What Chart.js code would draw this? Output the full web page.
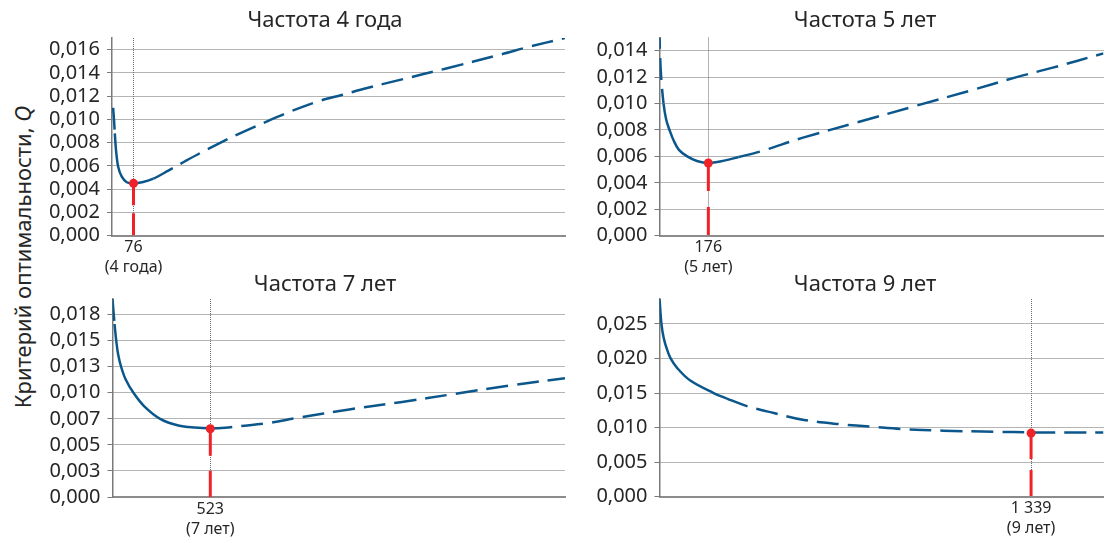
<!DOCTYPE html>
<html lang="ru">
<head>
<meta charset="UTF-8">
<title>Критерий оптимальности Q</title>
<script src="https://cdn.jsdelivr.net/npm/chart.js"></script>
<style>
  body { margin: 0; width: 1108px; height: 543px; background: #fff; position: relative; overflow: hidden; font-family: 'Noto Sans', sans-serif; color: #262626; }
  canvas { position: absolute; }
  #ytitle { position: absolute; left: 22px; top: 257px; transform: translate(-50%, -50%) rotate(-90deg); white-space: nowrap; font-size: 22px; }
</style>
</head>
<body>
<div id="ytitle">Критерий оптимальности, <i>Q</i></div>
<canvas id="c1"></canvas>
<canvas id="c2"></canvas>
<canvas id="c3"></canvas>
<canvas id="c4"></canvas>
<script>
// titles and optimum points
const titles = ['Частота 4 года', 'Частота 5 лет', 'Частота 7 лет', 'Частота 9 лет'];
const optimumN = [76, 176, 523, 1339];
const optimumQ = [0.0045, 0.0055, 0.00655, 0.0092];
const optimumLabels = ['76', '176', '523', '1 339'];
const periodLabels = ['(4 года)', '(5 лет)', '(7 лет)', '(9 лет)'];

// curves
const n4 = [4, 7, 10, 14, 22, 34, 52, 76, 110, 146, 199, 258, 311, 375, 452, 554, 632, 734, 811, 901, 1017, 1184, 1376, 1466, 1600];
const q4 = [0.0110, 0.0100, 0.0088, 0.0074, 0.0059, 0.0051, 0.0046, 0.0045, 0.00462, 0.0049, 0.0056, 0.0064, 0.0071, 0.0079, 0.0088, 0.0099, 0.0107, 0.0116, 0.0121, 0.0127, 0.0134, 0.0144, 0.0156, 0.0162, 0.0170];

const n5 = [0, 1.5, 6, 14.6, 24, 36, 51, 70, 100, 135, 176, 233, 285, 367, 514, 717, 919, 1123, 1287, 1414, 1600];
const q5 = [0.0158, 0.0140, 0.0120, 0.0100, 0.0088, 0.0080, 0.0072, 0.0065, 0.0060, 0.00565, 0.0055, 0.00568, 0.00595, 0.0064, 0.0074, 0.0086, 0.0098, 0.0110, 0.0120, 0.0127, 0.0138];

const n7 = [0, 11, 20, 30, 46, 70, 112, 170, 255, 352, 441, 523, 602, 680, 836, 992, 1266, 1540, 1832, 2125, 2420];
const q7 = [0.0190, 0.0166, 0.0150, 0.0137, 0.0125, 0.0113, 0.0100, 0.0087, 0.0075, 0.00686, 0.00666, 0.0066, 0.00665, 0.0068, 0.0071, 0.0076, 0.0084, 0.0091, 0.0099, 0.0107, 0.0114];

const n9 = [0, 7, 15, 27, 40, 64, 111, 195, 243, 315, 412, 521, 646, 772, 872, 1022, 1210, 1339, 1474, 1600];
const q9 = [0.0287, 0.0250, 0.0230, 0.0213, 0.0200, 0.0186, 0.0168, 0.0150, 0.0142, 0.0131, 0.0121, 0.0111, 0.0105, 0.0101, 0.0098, 0.00955, 0.0094, 0.0093, 0.0093, 0.0093];

// solid part of each curve (the rest is dashed)
const solidFrom = [10, 14.6, 11, 0];
const solidTo = [146, 285, 523, 243];

// axes
const xMax = [1600, 1600, 2420, 1600];
const yMax = [0.017, 0.015, 0.019, 0.0286];
const yTicks4 = [0, 0.002, 0.004, 0.006, 0.008, 0.010, 0.012, 0.014, 0.016];
const yLabels4 = ['0,000', '0,002', '0,004', '0,006', '0,008', '0,010', '0,012', '0,014', '0,016'];
const yTicks5 = [0, 0.002, 0.004, 0.006, 0.008, 0.010, 0.012, 0.014];
const yLabels5 = ['0,000', '0,002', '0,004', '0,006', '0,008', '0,010', '0,012', '0,014'];
const yTicks7 = [0, 0.0025, 0.005, 0.0075, 0.010, 0.0125, 0.015, 0.0175];
const yLabels7 = ['0,000', '0,003', '0,005', '0,007', '0,010', '0,013', '0,015', '0,018'];
const yTicks9 = [0, 0.005, 0.010, 0.015, 0.020, 0.025];
const yLabels9 = ['0,000', '0,005', '0,010', '0,015', '0,020', '0,025'];

const BLUE = '#0b578c';
const RED = '#ee2229';
const GRID = '#6a6a6a';
const TEXT = '#262626';

// canvas boxes and plot areas in page pixels
const panels = [
  { id: 'c1', n: n4, q: q4, ticks: yTicks4, labels: yLabels4, redDash: [22, 8], box: { left: 30, top: 0, w: 540, h: 282 }, area: { left: 112, right: 565, top: 38, bottom: 235.7 }, title: { x: 325, y: 20.5 } },
  { id: 'c2', n: n5, q: q5, ticks: yTicks5, labels: yLabels5, redDash: [28, 16], box: { left: 575, top: 0, w: 533, h: 282 }, area: { left: 659.5, right: 1105, top: 37.5, bottom: 235.7 }, title: { x: 865, y: 20.5 } },
  { id: 'c3', n: n7, q: q7, ticks: yTicks7, labels: yLabels7, redDash: [27, 15], box: { left: 30, top: 262, w: 540, h: 281 }, area: { left: 112.5, right: 565, top: 299, bottom: 497 }, title: { x: 325, y: 285 } },
  { id: 'c4', n: n9, q: q9, ticks: yTicks9, labels: yLabels9, redDash: [26, 11], box: { left: 575, top: 262, w: 533, h: 281 }, area: { left: 659.5, right: 1105, top: 299, bottom: 496.7 }, title: { x: 865, y: 285 } }
];

// title drawn at a fixed spot above each panel
const panelTitle = {
  id: 'panelTitle',
  afterDraw(chart, args, opts) {
    const ctx = chart.ctx;
    ctx.save();
    ctx.font = '22px "Noto Sans"';
    ctx.fillStyle = TEXT;
    ctx.textAlign = 'center';
    ctx.textBaseline = 'middle';
    ctx.fillText(opts.text, opts.x, opts.y);
    ctx.restore();
  }
};

function buildPanel(k) {
  const p = panels[k];
  const box = p.box, area = p.area;
  const canvas = document.getElementById(p.id);
  canvas.width = box.w;
  canvas.height = box.h;
  canvas.style.left = box.left + 'px';
  canvas.style.top = box.top + 'px';
  const dash = [22, 9];

  new Chart(canvas, {
    type: 'line',
    data: {
      datasets: [
        {
          data: [{ x: optimumN[k], y: optimumQ[k] }, { x: optimumN[k], y: 0 }],
          borderColor: RED,
          borderWidth: 3,
          borderDash: p.redDash,
          pointRadius: [4.5, 0],
          pointBackgroundColor: RED,
          pointBorderWidth: 0,
          order: 0
        },
        {
          data: p.n.map((n, j) => ({ x: n, y: p.q[j] })),
          borderColor: BLUE,
          borderWidth: 2.5,
          pointRadius: 0,
          tension: 0.35,
          borderDash: dash,
          segment: {
            borderDash: c => (c.p0.parsed.x >= solidFrom[k] && c.p1.parsed.x <= solidTo[k]) ? [] : dash
          },
          order: 1
        }
      ]
    },
    options: {
      responsive: false,
      animation: false,
      events: [],
      layout: { padding: { top: area.top - box.top, right: box.left + box.w - area.right, left: 0, bottom: 0 } },
      plugins: {
        legend: { display: false },
        tooltip: { enabled: false },
        panelTitle: { text: titles[k], x: p.title.x - box.left, y: p.title.y - box.top }
      },
      scales: {
        x: {
          type: 'linear',
          min: 0,
          max: xMax[k],
          afterFit: s => { s.height = box.top + box.h - area.bottom; },
          afterBuildTicks: s => { s.ticks = [{ value: optimumN[k] }]; },
          ticks: {
            autoSkip: false,
            maxRotation: 0,
            padding: 2,
            color: TEXT,
            font: { family: 'Noto Sans', size: 16, lineHeight: 1.25 },
            callback: () => [optimumLabels[k], periodLabels[k]]
          },
          grid: { color: GRID, lineWidth: 1, drawTicks: false },
          border: { color: '#8c8c8c', width: 2, dash: [1, 1] }
        },
        y: {
          min: 0,
          max: yMax[k],
          afterFit: s => { s.width = area.left - box.left; },
          afterBuildTicks: s => { s.ticks = p.ticks.map(v => ({ value: v })); },
          ticks: {
            autoSkip: false,
            padding: 7,
            color: TEXT,
            font: { family: 'Noto Sans', size: 20 },
            callback: (v, idx) => p.labels[idx]
          },
          grid: { color: GRID, lineWidth: 1, tickLength: 5, tickColor: '#7a7a7a', tickBorderDash: [] },
          border: { color: '#7a7a7a', width: 1.5, dash: [1, 1] }
        }
      }
    },
    plugins: [panelTitle]
  });
}

panels.forEach((p, k) => buildPanel(k));
</script>
</body>
</html>
